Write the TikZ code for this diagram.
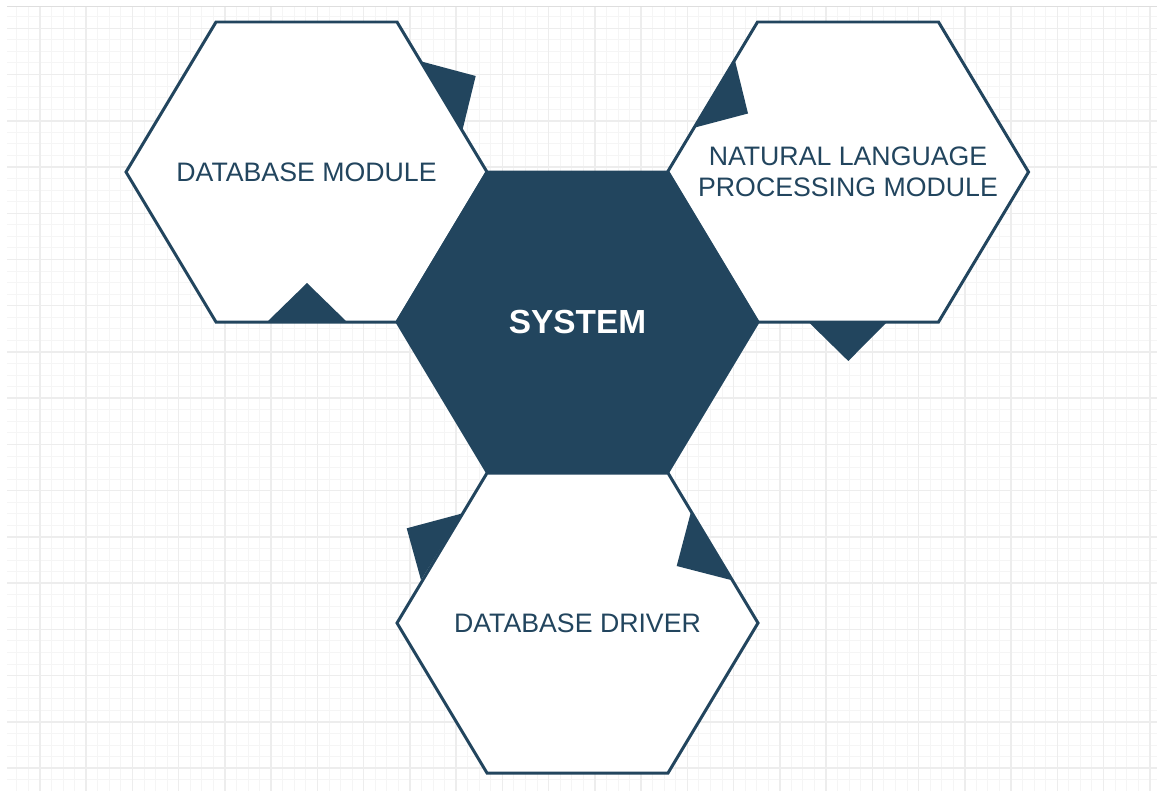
\documentclass[tikz,border=0pt]{standalone}
\usepackage{fontspec}
\setmainfont{Liberation Sans}
\definecolor{navy}{RGB}{34,69,94}

\begin{document}
\begin{tikzpicture}[x=0.02cm,y=-0.02cm,
  hex/.style={draw=navy,line width=0.06cm,line join=miter},
  tab/.style={fill=navy},
  minorline/.style={draw=black!4,line width=0.02cm},
  majorline/.style={draw=black!7,line width=0.03cm},
  modlabel/.style={text=navy,align=center,font=\fontsize{15.2}{17.6}\selectfont}]
\path[use as bounding box] (0,0) rectangle (1157,791); % adjust bounding box

% background grid
\begin{scope}
\clip (7,7) rectangle (1157,791);
\foreach \i in {-3,...,97}
  \draw[minorline] ({40+11.56*\i},7) -- ({40+11.56*\i},791);
\foreach \j in {-2,...,67}
  \draw[minorline] (7,{28.3+11.56*\j}) -- (1157,{28.3+11.56*\j});
\foreach \i in {0,...,24}
  \draw[majorline] ({40+46.24*\i},7) -- ({40+46.24*\i},791);
\foreach \j in {0,...,16}
  \draw[majorline] (7,{28.3+46.24*\j}) -- (1157,{28.3+46.24*\j});
\end{scope}
\draw[black!13,line width=0.04cm] (7,6.5) -- (1157,6.5);

\coordinate (db)  at (306.5,172);
\coordinate (nlp) at (848,172);
\coordinate (sys) at (577.5,322);
\coordinate (drv) at (577.5,623);

% outer hexagons
\foreach \c in {db,nlp,drv}
  \draw[hex,fill=white]
       (\c) ++(-180.5,0)
    -- ++(90,-150)
    -- ++(181,0)
    -- ++(90,150)
    -- ++(-90,150)
    -- ++(-181,0)
    -- cycle;
% centre hexagon
\draw[hex,fill=navy]
     (sys) ++(-180.5,0)
  -- ++(90,-150)
  -- ++(181,0)
  -- ++(90,150)
  -- ++(-90,150)
  -- ++(-181,0)
  -- cycle;

% tabs on the edges
\fill[tab] (421.5,61.5) -- (475.7,76) -- (462.5,130) -- cycle;
\fill[tab] (267,322) -- (307,283) -- (347,322) -- cycle;
\fill[tab] (735,60.5) -- (748,113.5) -- (695,127.5) -- cycle;
\fill[tab] (808.5,322) -- (848.3,361) -- (887,322) -- cycle;
\fill[tab] (462,513.5) -- (406.7,528.3) -- (421,580) -- cycle;
\fill[tab] (691,511.7) -- (676.7,566) -- (731,580) -- cycle;

\node[modlabel] (db-label)  at (db)  {DATABASE MODULE};
\node[modlabel] (nlp-label) at (nlp) {NATURAL LANGUAGE\\PROCESSING MODULE};
\node[modlabel] (drv-label) at (drv) {DATABASE DRIVER};
\node[text=white,font=\fontsize{19}{22}\selectfont\bfseries] (sys-label) at (sys) {SYSTEM};
\end{tikzpicture}
\end{document}
